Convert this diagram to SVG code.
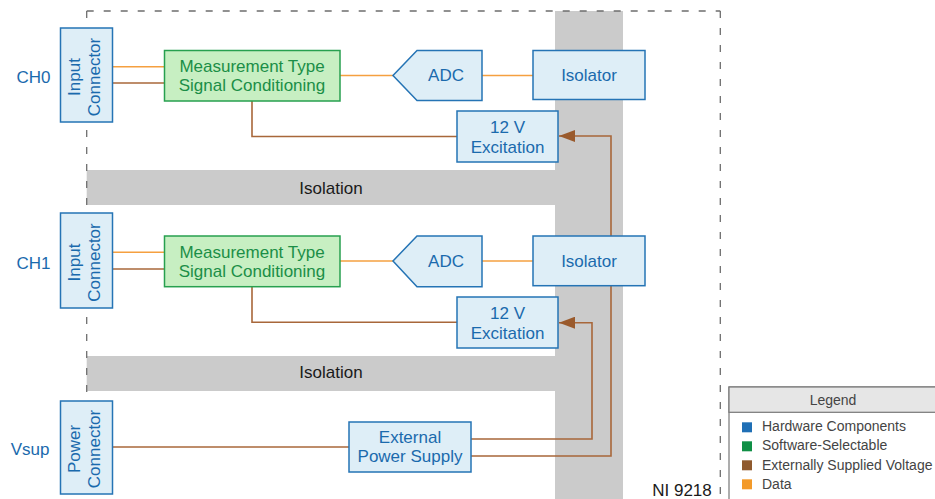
<svg xmlns="http://www.w3.org/2000/svg" width="935" height="499" viewBox="0 0 935 499">
<defs>
<style>
.bg{fill:#cbcbcb}
.dash{stroke:#6e6e6e;stroke-width:1.3;stroke-dasharray:7 10;fill:none}
.hw{fill:#deeef7;stroke:#2574b5;stroke-width:1.5}
.sw{fill:#c7efc2;stroke:#27a04f;stroke-width:1.5}
.t{font-family:"Liberation Sans",Arial,sans-serif;font-size:17px;text-anchor:middle}
.tb{fill:#1a6aad}
.tg{fill:#1b8e47}
.tk{fill:#1a1a1a}
.data{stroke:#f5a040;stroke-width:1.6;fill:none}
.pwr{stroke:#a8673a;stroke-width:1.6;fill:none}
.lg{font-family:"Liberation Sans",Arial,sans-serif;font-size:14px;fill:#444}
</style>
<marker id="arr" viewBox="0 0 16 12" refX="16" refY="6" markerWidth="16" markerHeight="12" markerUnits="userSpaceOnUse" orient="auto">
<path d="M0,0 L16,6 L0,12 z" fill="#9a5a2c"/>
</marker>
</defs>
<rect width="935" height="499" fill="#fff"/>
<g id="isolation-barriers">
<rect class="bg" x="555" y="11" width="68" height="488"/>
<rect class="bg" x="86.7" y="170" width="468.3" height="35"/>
<rect class="bg" x="86.7" y="356" width="468.3" height="35"/>
<text class="t tk" x="331" y="194">Isolation</text>
<text class="t tk" x="331" y="378">Isolation</text>
</g>
<g id="ni9218-boundary">
<path class="dash" d="M86.7,11 V499"/>
<path class="dash" d="M86.7,11 H720.3"/>
<path class="dash" d="M720.3,11 V499"/>
<text class="t tk" x="682" y="496">NI 9218</text>
</g>
<g id="connectors">
<path class="data" d="M113,66.7 H165"/>
<path class="pwr" d="M113,83 H165"/>
<path class="data" d="M340,75.5 H393"/>
<path class="data" d="M482,75.5 H533"/>
<path class="pwr" d="M252,101 V136.5 H457"/>
<path class="data" d="M113,252.3 H165"/>
<path class="pwr" d="M113,269 H165"/>
<path class="data" d="M340,261 H393"/>
<path class="data" d="M482,261 H533"/>
<path class="pwr" d="M252,287 V322.3 H457"/>
<path class="pwr" d="M113,447 H349"/>
<path class="pwr" d="M471,456 H611 V136 H559" marker-end="url(#arr)"/>
<path class="pwr" d="M471,439 H592 V322.7 H559" marker-end="url(#arr)"/>
</g>
<g id="ch0-label"><text class="t tb" x="33.5" y="82.5">CH0</text></g>
<g id="ch1-label"><text class="t tb" x="33.5" y="269">CH1</text></g>
<g id="vsup-label"><text class="t tb" x="30" y="455">Vsup</text></g>
<g id="ch0-input-connector">
<rect class="hw" x="60.5" y="28" width="52" height="94"/>
<g transform="translate(86.5,77) rotate(-90)"><text class="t tb" x="0" y="-6.5">Input</text><text class="t tb" x="0" y="13.5">Connector</text></g>
</g>
<g id="ch0-signal-conditioning">
<rect class="sw" x="164.5" y="50.5" width="175.5" height="50.5"/>
<text class="t tg" x="252" y="71.7">Measurement Type</text>
<text class="t tg" x="252" y="91">Signal Conditioning</text>
</g>
<g id="ch0-adc">
<polygon class="hw" points="393,75.5 417,50.5 482,50.5 482,100.5 417,100.5"/>
<text class="t tb" x="446" y="81">ADC</text>
</g>
<g id="ch0-isolator">
<rect class="hw" x="533" y="50.5" width="112" height="49"/>
<text class="t tb" x="589" y="81">Isolator</text>
</g>
<g id="ch0-excitation">
<rect class="hw" x="457" y="111" width="101" height="51"/>
<text class="t tb" x="507.5" y="132.7">12 V</text>
<text class="t tb" x="507.5" y="152.7">Excitation</text>
</g>
<g id="ch1-input-connector">
<rect class="hw" x="60.5" y="213" width="52" height="95"/>
<g transform="translate(86.5,262.5) rotate(-90)"><text class="t tb" x="0" y="-6.5">Input</text><text class="t tb" x="0" y="13.5">Connector</text></g>
</g>
<g id="ch1-signal-conditioning">
<rect class="sw" x="164.5" y="236" width="175.5" height="50.7"/>
<text class="t tg" x="252" y="257.5">Measurement Type</text>
<text class="t tg" x="252" y="277">Signal Conditioning</text>
</g>
<g id="ch1-adc">
<polygon class="hw" points="393,261 417,236 482,236 482,286.7 417,286.7"/>
<text class="t tb" x="446" y="267">ADC</text>
</g>
<g id="ch1-isolator">
<rect class="hw" x="533" y="236" width="112" height="49.7"/>
<text class="t tb" x="589" y="267">Isolator</text>
</g>
<g id="ch1-excitation">
<rect class="hw" x="457" y="297" width="101" height="51"/>
<text class="t tb" x="507.5" y="318.7">12 V</text>
<text class="t tb" x="507.5" y="338.7">Excitation</text>
</g>
<g id="power-connector">
<rect class="hw" x="60.5" y="401" width="52" height="93"/>
<g transform="translate(86.5,449) rotate(-90)"><text class="t tb" x="0" y="-6.5">Power</text><text class="t tb" x="0" y="13.5">Connector</text></g>
</g>
<g id="external-power-supply">
<rect class="hw" x="349" y="422" width="122" height="50"/>
<text class="t tb" x="410" y="443.3">External</text>
<text class="t tb" x="410" y="462.3">Power Supply</text>
</g>
<g id="legend">
<rect x="729" y="387" width="220" height="130" fill="#fff" stroke="#777" stroke-width="1.2"/>
<rect x="729" y="387" width="220" height="25.3" fill="#e6e6e6" stroke="#777" stroke-width="1.2"/>
<text class="lg" x="833" y="405" text-anchor="middle">Legend</text>
<rect x="742" y="422.3" width="10" height="10" fill="#1f6fb5"/>
<text class="lg" x="762" y="431">Hardware Components</text>
<rect x="742" y="441.3" width="10" height="10" fill="#0f8f45"/>
<text class="lg" x="762" y="450">Software-Selectable</text>
<rect x="742" y="460.3" width="10" height="10" fill="#8f5a2e"/>
<text class="lg" x="762" y="469.5">Externally Supplied Voltage</text>
<rect x="742" y="479.3" width="10" height="10" fill="#f39a2a"/>
<text class="lg" x="762" y="488.7">Data</text>
</g>
</svg>
